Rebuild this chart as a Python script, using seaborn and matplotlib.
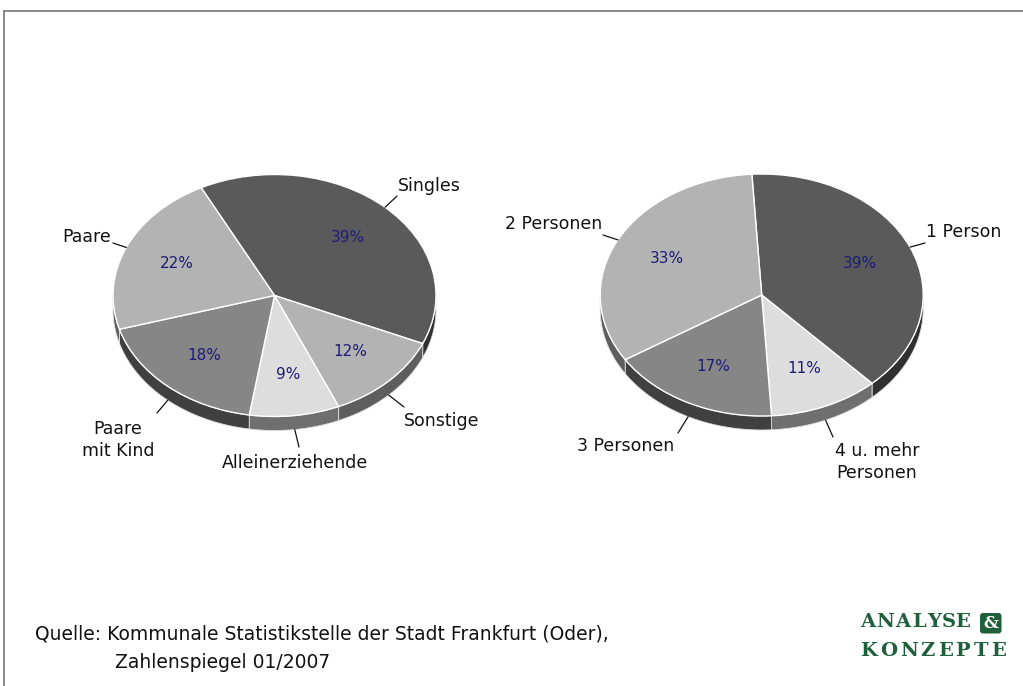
import numpy as np
import matplotlib
matplotlib.use("Agg")
import matplotlib.pyplot as plt
import seaborn as sns
from matplotlib.patches import FancyBboxPatch
from matplotlib.textpath import TextPath
from matplotlib.font_manager import FontProperties

# Haushaltsformen (links)
haushalt_labels = ["Singles", "Sonstige", "Alleinerziehende", "Paare\nmit Kind", "Paare"]
haushalt_values = [39, 12, 9, 18, 22]
haushalt_top = ["#5a5a5a", "#b3b3b3", "#dddddd", "#868686", "#b3b3b3"]
haushalt_side = ["#303030", "#5e5e5e", "#6f6f6f", "#404040", "#5e5e5e"]

# Haushaltsgroesse (rechts)
groesse_labels = ["1 Person", "4 u. mehr\nPersonen", "3 Personen", "2 Personen"]
groesse_values = [39, 11, 17, 33]
groesse_top = ["#5a5a5a", "#dddddd", "#868686", "#b3b3b3"]
groesse_side = ["#303030", "#6f6f6f", "#404040", "#5e5e5e"]

quelle = ["Quelle: Kommunale Statistikstelle der Stadt Frankfurt (Oder),",
          "Zahlenspiegel 01/2007"]

sns.set_theme(style="white")
plt.rcParams["font.family"] = ["DejaVu Sans"]

W, H = 1023, 686
RX, RY = 161.5, 121.0   # Halbachsen der Ellipse in Pixel
DEPTH = 14 / RY         # Hoehe der Seitenwand in Dateneinheiten
LIM = 1.9

fig = plt.figure(figsize=(W / 100, H / 100), dpi=100)
fig.patch.set_facecolor("white")

ov = fig.add_axes([0, 0, 1, 1])
ov.set_xlim(0, W)
ov.set_ylim(H, 0)
ov.axis("off")


def pie_axes(cx, cy):
    w = 2 * LIM * RX
    h = 2 * LIM * RY
    ax = fig.add_axes([(cx - w / 2) / W, (H - cy - h / 2) / H, w / W, h / H])
    return ax


def draw_pie(ax, values, top, side, start, labels, label_pos):
    fr = np.array(values, dtype=float) / sum(values)
    t0 = start - 360 * np.concatenate([[0], np.cumsum(fr)[:-1]])
    t1 = t0 - 360 * fr
    # Seitenwand (nur vordere Haelfte)
    for a, b, c in zip(t1, t0, side):
        for k in (-1, 0, 1):
            lo = max(a, -180 + 360 * k)
            hi = min(b, 0 + 360 * k)
            if hi <= lo:
                continue
            t = np.radians(np.linspace(lo, hi, 80))
            xs = np.concatenate([np.cos(t), np.cos(t[::-1])])
            ys = np.concatenate([np.sin(t), np.sin(t[::-1]) - DEPTH])
            ax.fill(xs, ys, color=c, ec="#e0e0e0", lw=0.6, zorder=1)
    wedges, _, autot = ax.pie(values, colors=top, startangle=start, counterclock=False,
                              radius=1, autopct="%1.0f%%", pctdistance=0.66,
                              wedgeprops=dict(edgecolor="white", linewidth=1.0),
                              textprops=dict(fontsize=11, color="#1c1c78"))
    for w in wedges:
        w.set_zorder(2)
    for t in autot:
        t.set_zorder(4)
    ax.set_aspect("auto")
    ax.set_xlim(-LIM, LIM)
    ax.set_ylim(-LIM, LIM)
    ax.axis("off")
    # Beschriftung mit Fuehrungslinien
    mids = np.radians((t0 + t1) / 2)
    for m, lab, (ex, ey, tx, ty, ha) in zip(mids, labels, label_pos):
        sx, sy = np.cos(m), np.sin(m)
        if sy < 0:
            sy -= DEPTH
        ax.plot([sx, ex], [sy, ey], color="#111111", lw=0.9, zorder=5)
        ax.text(tx, ty, lab, ha=ha, va="center", fontsize=12.5, color="#111111",
                linespacing=1.25, zorder=5)


def to_data(px, py, cx, cy):
    return (px - cx) / RX, (cy - py) / RY


def positions(spec, cx, cy):
    out = []
    for ex, ey, tx, ty, ha in spec:
        e = to_data(ex, ey, cx, cy)
        t = to_data(tx, ty, cx, cy)
        out.append((e[0], e[1], t[0], t[1], ha))
    return out


# linke Torte
lcx, lcy = 274.5, 295.5
ax1 = pie_axes(lcx, lcy)
left_spec = [(397, 196, 398, 186, "left"),
             (404, 407, 404, 421, "left"),
             (299, 447, 295, 463, "center"),
             (157, 413, 118, 440, "center"),
             (113, 243, 111, 237, "right")]
draw_pie(ax1, haushalt_values, haushalt_top, haushalt_side, 117, haushalt_labels,
         positions(left_spec, lcx, lcy))

# rechte Torte
rcx, rcy = 761.7, 295.0
ax2 = pie_axes(rcx, rcy)
right_spec = [(925, 243, 926, 232, "left"),
              (833, 437, 877, 462, "center"),
              (678, 433, 626, 446, "center"),
              (603, 235, 602, 224, "right")]
draw_pie(ax2, groesse_values, groesse_top, groesse_side, 93.5, groesse_labels,
         positions(right_spec, rcx, rcy))

# Rahmen
ov.plot([3, W], [10.5, 10.5], color="#808080", lw=1.3, solid_capstyle="butt")
ov.plot([4.2, 4.2], [10, H], color="#808080", lw=1.3, solid_capstyle="butt")

# Quelle
ov.text(35, 634, quelle[0], ha="left", va="center", fontsize=13.5, color="#111111")
ov.text(115, 662, quelle[1], ha="left", va="center", fontsize=13.5, color="#111111")

# Logo: Buchstaben gleichmaessig gesperrt
green = "#1f5f3b"
fp = FontProperties(family="DejaVu Serif", weight="bold", size=14)


def spaced(word, x0, x1, y):
    widths = [TextPath((0, 0), ch, prop=fp).get_extents().width * 100 / 72 for ch in word]
    gap = (x1 - x0 - sum(widths)) / (len(word) - 1)
    x = x0
    for ch, w in zip(word, widths):
        ov.text(x + w / 2, y, ch, ha="center", va="center", fontproperties=fp, color=green)
        x += w + gap


spaced("ANALYSE", 860, 969, 622)
spaced("KONZEPTE", 860, 1005, 651)
ov.add_patch(FancyBboxPatch((980, 613), 21.5, 20.5,
                            boxstyle="round,pad=0,rounding_size=3",
                            fc=green, ec="none"))
ov.text(990.8, 623.3, "&", ha="center", va="center", fontsize=12,
        fontweight="bold", family="DejaVu Serif", color="white")

fig.savefig("out.png", dpi=100, facecolor="white")
